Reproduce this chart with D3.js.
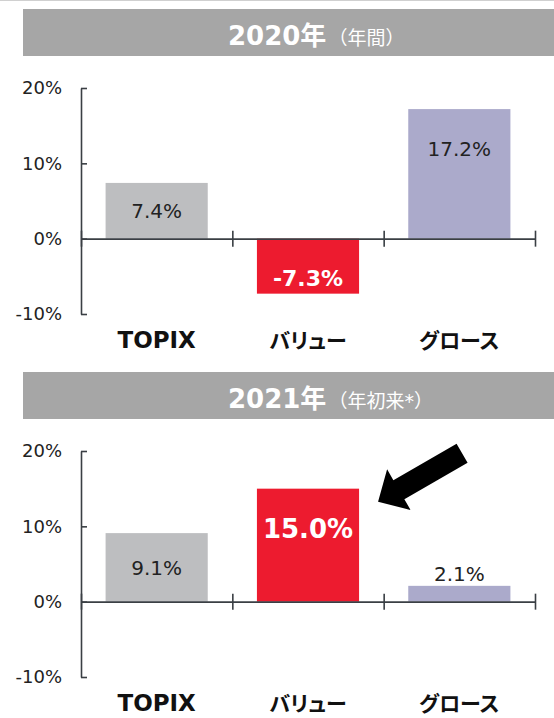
<!DOCTYPE html>
<html>
<head>
<meta charset="utf-8">
<script src="https://cdn.jsdelivr.net/npm/d3@7"></script>
<style>
  body { margin: 0; background: #fff; }
  svg { display: block; font-family: "DejaVu Sans", "Noto Sans CJK JP", sans-serif; }
</style>
</head>
<body>
<svg id="chart" width="554" height="718"></svg>
<script>
const categories = ['TOPIX', 'バリュー', 'グロース'];
const values2020 = [7.4, -7.3, 17.2];
const values2021 = [9.1, 15.0, 2.1];
const yTicks = [-10, 0, 10, 20];
const titleMain = ['2020年', '2021年'];
const titleSub = ['（年間）', '（年初来*）'];
const barColors = ['#bdbec0', '#ed1b2f', '#abaacb'];

const svg = d3.select('#chart');

// thin rule along the top edge
svg.append('line').attr('x1', 0).attr('x2', 554).attr('y1', 0.5).attr('y2', 0.5)
    .attr('stroke', '#d0d0d0').attr('stroke-width', 1);

function drawPanel(top, values, idx, big) {
    const g = svg.append('g').attr('transform', `translate(0,${top})`);

    // title bar
    g.append('rect').attr('x', 23).attr('y', 0).attr('width', 531).attr('height', 47)
        .attr('fill', '#a6a6a6');
    const t = g.append('text').attr('x', 228).attr('y', 36).attr('fill', '#fff');
    t.append('tspan').attr('font-size', 26).attr('font-weight', 'bold').text(titleMain[idx]);
    t.append('tspan').attr('font-size', 19).attr('dx', 2).text(titleSub[idx]);

    const y = d3.scaleLinear().domain([-10, 20]).range([305, 79]);
    const x = d3.scaleBand().domain(categories).range([81, 535])
        .paddingInner(0.325).paddingOuter(0.1625);
    const xEdge = d3.scaleLinear().domain([0, 3]).range([81, 535]);

    // bars
    g.selectAll('.bar').data(values).enter().append('rect')
        .attr('x', (d, i) => x(categories[i]))
        .attr('y', d => y(Math.max(0, d)))
        .attr('width', x.bandwidth())
        .attr('height', d => Math.abs(y(d) - y(0)))
        .attr('fill', (d, i) => barColors[i]);

    // y axis
    const ya = g.append('g').attr('transform', 'translate(81,0)')
        .call(d3.axisLeft(y).tickValues(yTicks).tickSizeInner(-6).tickSizeOuter(0)
            .tickPadding(19).tickFormat(d => d + '%'));
    ya.selectAll('path, line').attr('stroke', '#3a3f44').attr('stroke-width', 1.6);
    ya.selectAll('text').attr('font-size', 18).attr('fill', '#222')
        .attr('font-family', '"DejaVu Sans", sans-serif');

    // x axis along zero
    const xa = g.append('g').attr('transform', `translate(0,${y(0)})`)
        .call(d3.axisBottom(xEdge).tickValues([0, 1, 2, 3]).tickSizeOuter(0).tickFormat(''));
    xa.selectAll('path, line').attr('stroke', '#3a3f44').attr('stroke-width', 1.6);
    xa.selectAll('.tick line').attr('y1', -8).attr('y2', 8);

    // category labels
    g.selectAll('.cat').data(categories).enter().append('text')
        .attr('x', d => x(d) + x.bandwidth() / 2)
        .attr('y', 339)
        .attr('text-anchor', 'middle')
        .attr('font-weight', 'bold')
        .attr('font-size', (d, i) => i === 0 ? 23 : 21)
        .attr('font-family', (d, i) => i === 0 ? '"DejaVu Sans", sans-serif' : '"Noto Sans CJK JP", sans-serif')
        .style('font-feature-settings', '"palt"')
        .attr('fill', '#111')
        .text(d => d);

    // value labels
    g.selectAll('.val').data(values).enter().append('text')
        .attr('x', (d, i) => x(categories[i]) + x.bandwidth() / 2)
        .attr('y', d => {
            const h = Math.abs(y(d) - y(0));
            if (d >= 0 && h < 30) return y(d) - 12;
            if (d >= 0) return y(d) + Math.min(h / 2, 40);
            return y(d) - 16;
        })
        .attr('dy', '0.36em')
        .attr('text-anchor', 'middle')
        .attr('font-size', (d, i) => i === 1 ? (big ? 26 : 22) : 20)
        .attr('font-weight', (d, i) => i === 1 ? 'bold' : 'normal')
        .attr('fill', (d, i) => i === 1 ? '#fff' : '#222')
        .text(d => d.toFixed(1) + '%');

    return { g, x, y };
}

drawPanel(9, values2020, 0, false);
const p2 = drawPanel(372, values2021, 1, true);

// arrow pointing at the value bar
const tipX = p2.x(categories[1]) + p2.x.bandwidth() + 19;
const tipY = p2.y(values2021[1]) + 13;
const arrow = [[0, 0], [-24, -23.5], [-24, -11], [-97, -11], [-97, 11], [-24, 11], [-24, 23.5]];
p2.g.append('path')
    .attr('d', d3.line()(arrow) + 'Z')
    .attr('transform', `translate(${tipX},${tipY}) rotate(150)`)
    .attr('fill', '#000');
</script>
</body>
</html>
